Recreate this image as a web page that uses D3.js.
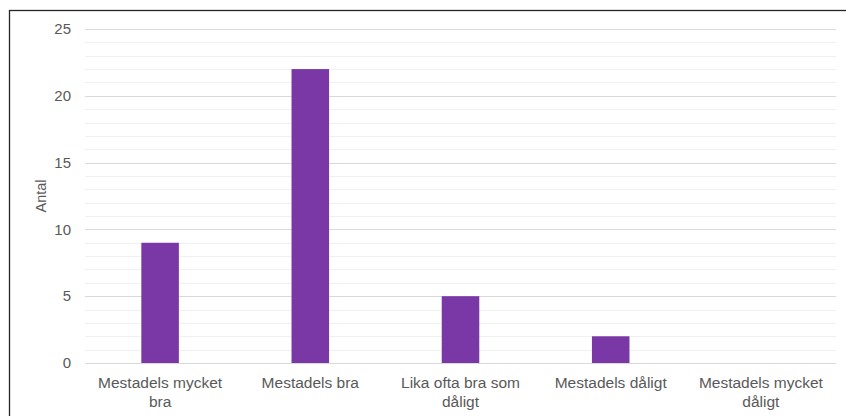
<!DOCTYPE html>
<html>
<head>
<meta charset="utf-8">
<script src="https://cdn.jsdelivr.net/npm/d3@7"></script>
<style>
  body { margin: 0; background: #fff; }
  svg { display: block; font-family: Arial, "Liberation Sans", sans-serif; }
</style>
</head>
<body>
<div id="chart"></div>
<script>
const categories = [
  ["Mestadels mycket", "bra"],
  ["Mestadels bra"],
  ["Lika ofta bra som", "dåligt"],
  ["Mestadels dåligt"],
  ["Mestadels mycket", "dåligt"]
];
const values = [9, 22, 5, 2, 0];
const yTicks = [0, 5, 10, 15, 20, 25];
const yMinorTicks = d3.range(0, 26, 1);

const width = 846;
const height = 416;
const margin = { top: 29, right: 10, bottom: 53, left: 85 };

const svg = d3.select("#chart")
  .append("svg")
  .attr("width", width)
  .attr("height", height);

// outer frame (runs off the right and bottom edge)
svg.append("rect")
  .attr("x", 9.5)
  .attr("y", 10.5)
  .attr("width", 900)
  .attr("height", 500)
  .attr("fill", "none")
  .attr("stroke", "#262626")
  .attr("stroke-width", 1.3);

const x = d3.scaleBand()
  .domain(d3.range(categories.length))
  .range([margin.left, width - margin.right])
  .paddingInner(0.75)
  .paddingOuter(0.375);

const y = d3.scaleLinear()
  .domain([0, 25])
  .range([height - margin.bottom, margin.top]);

// minor grid
svg.append("g")
  .selectAll("line")
  .data(yMinorTicks.filter(d => d % 5 !== 0))
  .enter()
  .append("line")
  .attr("x1", margin.left)
  .attr("x2", width - margin.right)
  .attr("y1", d => Math.round(y(d)) + 0.5)
  .attr("y2", d => Math.round(y(d)) + 0.5)
  .attr("stroke", "#f0f0f0")
  .attr("stroke-width", 1.2);

// major grid
svg.append("g")
  .selectAll("line")
  .data(yTicks)
  .enter()
  .append("line")
  .attr("x1", margin.left)
  .attr("x2", width - margin.right)
  .attr("y1", d => Math.round(y(d)) + 0.5)
  .attr("y2", d => Math.round(y(d)) + 0.5)
  .attr("stroke", "#d9d9d9")
  .attr("stroke-width", 1.2);

// y tick labels
svg.append("g")
  .selectAll("text")
  .data(yTicks)
  .enter()
  .append("text")
  .attr("x", 71)
  .attr("y", d => y(d))
  .attr("dy", "0.35em")
  .attr("text-anchor", "end")
  .attr("fill", "#595959")
  .style("font-size", "15px")
  .text(d => d);

// y title
svg.append("text")
  .attr("transform", "translate(46," + ((y(0) + y(25)) / 2) + ") rotate(-90)")
  .attr("text-anchor", "middle")
  .attr("fill", "#595959")
  .style("font-size", "14.5px")
  .text("Antal");

// bars
svg.append("g")
  .selectAll("rect")
  .data(values)
  .enter()
  .append("rect")
  .attr("x", (d, i) => x(i))
  .attr("y", d => y(d))
  .attr("width", x.bandwidth())
  .attr("height", d => y(0) - y(d))
  .attr("fill", "#7a38a7");

// category labels
const labels = svg.append("g")
  .selectAll("text")
  .data(categories)
  .enter()
  .append("text")
  .attr("x", (d, i) => x(i) + x.bandwidth() / 2)
  .attr("y", 388)
  .attr("text-anchor", "middle")
  .attr("fill", "#595959")
  .style("font-size", "15.5px");

labels.selectAll("tspan")
  .data(d => d)
  .enter()
  .append("tspan")
  .attr("x", function () { return d3.select(this.parentNode).attr("x"); })
  .attr("dy", (d, i) => i === 0 ? 0 : "1.2em")
  .text(d => d);
</script>
</body>
</html>
